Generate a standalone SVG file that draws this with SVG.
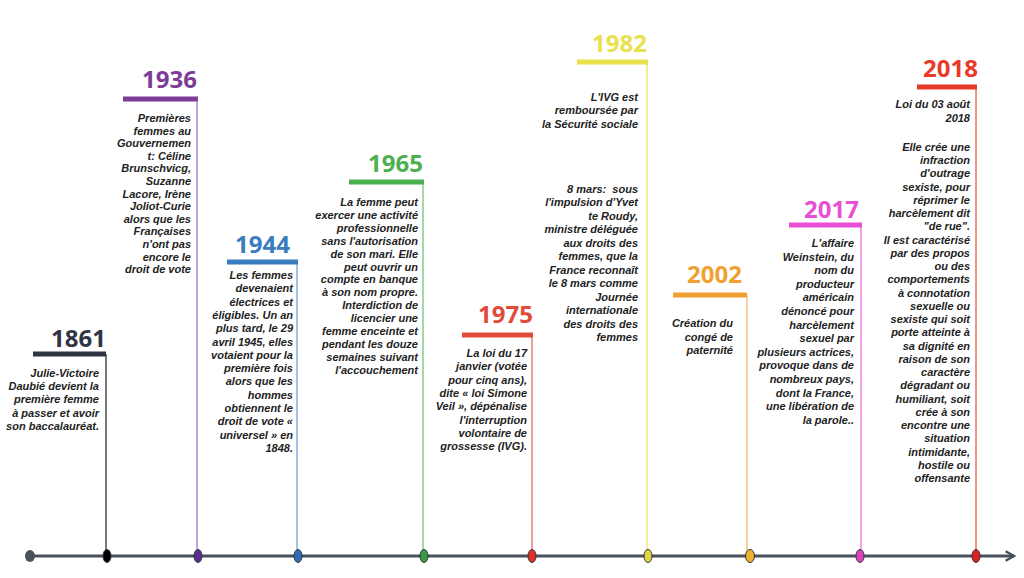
<svg xmlns="http://www.w3.org/2000/svg" width="1024" height="578" viewBox="0 0 1024 578">
<defs>
<style>
.yr{font-family:"Open Sans","Liberation Sans",sans-serif;font-weight:700;font-size:24px;text-anchor:end}
.tx{font-family:"Liberation Sans",Arial,sans-serif;font-weight:700;font-style:italic;font-size:11px;fill:#222;text-anchor:end}
.bar{stroke-width:5}
.vl{stroke-width:1.2}
.dot{stroke:#333;stroke-width:1}
</style>
<marker id="arr" viewBox="0 0 10 10" refX="8" refY="5" markerWidth="4" markerHeight="4" orient="auto" markerUnits="strokeWidth">
<path d="M1,1 L8,5 L1,9" fill="none" stroke="#4a505c" stroke-width="2"/>
</marker>
</defs>
<rect width="1024" height="578" fill="#fff"/>
<g id="connectors">
<line x1="30" y1="556" x2="1014" y2="556" stroke="#4a505c" stroke-width="3" marker-end="url(#arr)"/>
<line class="vl" x1="106" y1="354" x2="106" y2="556" stroke="#222"/>
<line class="vl" x1="197" y1="99" x2="197" y2="556" stroke="#9b6cc0"/>
<line class="vl" x1="297" y1="262" x2="297" y2="556" stroke="#6a9ad0"/>
<line class="vl" x1="423" y1="182" x2="423" y2="556" stroke="#66c070"/>
<line class="vl" x1="532" y1="335" x2="532" y2="556" stroke="#e06050"/>
<line class="vl" x1="647" y1="62" x2="647" y2="556" stroke="#e8e050"/>
<line class="vl" x1="747" y1="295" x2="747" y2="556" stroke="#f0b060"/>
<line class="vl" x1="861" y1="225" x2="861" y2="556" stroke="#f060e0"/>
<line class="vl" x1="976" y1="87" x2="976" y2="556" stroke="#e05040"/>
</g>
<g id="start"><ellipse cx="30" cy="556" rx="5" ry="6" fill="#4a505c"/></g>
<g id="n1861">
<text class="yr" x="106" y="347" fill="#2f3542">1861</text>
<line class="bar" x1="33" y1="354" x2="106" y2="354" stroke="#2f3542"/>
<text class="tx" y="377"><tspan x="99">Julie-Victoire</tspan><tspan x="99" dy="13.2">Daubié devient la</tspan><tspan x="99" dy="13.2">première femme</tspan><tspan x="99" dy="13.2">à passer et avoir</tspan><tspan x="99" dy="13.2">son baccalauréat.</tspan></text>
<ellipse class="dot" cx="107" cy="556" rx="4" ry="6.5" fill="#000"/>
</g>
<g id="n1936">
<text class="yr" x="197" y="88" fill="#7d3c98">1936</text>
<line class="bar" x1="123" y1="99" x2="198" y2="99" stroke="#7d3c98"/>
<text class="tx" y="122"><tspan x="191">Premières</tspan><tspan x="191" dy="12.6">femmes au</tspan><tspan x="191" dy="12.6">Gouvernemen</tspan><tspan x="191" dy="12.6">t: Céline</tspan><tspan x="191" dy="12.6">Brunschvicg,</tspan><tspan x="191" dy="12.6">Suzanne</tspan><tspan x="191" dy="12.6">Lacore, Irène</tspan><tspan x="191" dy="12.6">Joliot-Curie</tspan><tspan x="191" dy="12.6">alors que les</tspan><tspan x="191" dy="12.6">Françaises</tspan><tspan x="191" dy="12.6">n'ont pas</tspan><tspan x="191" dy="12.6">encore le</tspan><tspan x="191" dy="12.6">droit de vote</tspan></text>
<ellipse class="dot" cx="198" cy="556" rx="4" ry="6.5" fill="#5c2d91"/>
</g>
<g id="n1944">
<text class="yr" x="290" y="253" fill="#3a7dbf">1944</text>
<line class="bar" x1="227" y1="262" x2="298" y2="262" stroke="#3a7dbf"/>
<text class="tx" y="279"><tspan x="293">Les femmes</tspan><tspan x="293" dy="13.3">devenaient</tspan><tspan x="293" dy="13.3">électrices et</tspan><tspan x="293" dy="13.3">éligibles. Un an</tspan><tspan x="293" dy="13.3">plus tard, le 29</tspan><tspan x="293" dy="13.3">avril 1945, elles</tspan><tspan x="293" dy="13.3">votaient pour la</tspan><tspan x="293" dy="13.3">première fois</tspan><tspan x="293" dy="13.3">alors que les</tspan><tspan x="293" dy="13.3">hommes</tspan><tspan x="293" dy="13.3">obtiennent le</tspan><tspan x="293" dy="13.3">droit de vote «</tspan><tspan x="293" dy="13.3">universel » en</tspan><tspan x="293" dy="13.3">1848.</tspan></text>
<ellipse class="dot" cx="298" cy="556" rx="4" ry="6.5" fill="#2f6db5"/>
</g>
<g id="n1965">
<text class="yr" x="423" y="172" fill="#4caf50">1965</text>
<line class="bar" x1="349" y1="182" x2="424" y2="182" stroke="#4caf50"/>
<text class="tx" y="206"><tspan x="418">La femme peut</tspan><tspan x="418" dy="12.9">exercer une activité</tspan><tspan x="418" dy="12.9">professionnelle</tspan><tspan x="418" dy="12.9">sans l'autorisation</tspan><tspan x="418" dy="12.9">de son mari. Elle</tspan><tspan x="418" dy="12.9">peut ouvrir un</tspan><tspan x="418" dy="12.9">compte en banque</tspan><tspan x="418" dy="12.9">à son nom propre.</tspan><tspan x="418" dy="12.9">Interdiction de</tspan><tspan x="418" dy="12.9">licencier une</tspan><tspan x="418" dy="12.9">femme enceinte et</tspan><tspan x="418" dy="12.9">pendant les douze</tspan><tspan x="418" dy="12.9">semaines suivant</tspan><tspan x="418" dy="12.9">l'accouchement</tspan></text>
<ellipse class="dot" cx="424" cy="556" rx="4" ry="6.5" fill="#3a9a4a"/>
</g>
<g id="n1975">
<text class="yr" x="533" y="323" fill="#e04b3a">1975</text>
<line class="bar" x1="462" y1="335" x2="533" y2="335" stroke="#e04b3a"/>
<text class="tx" y="357"><tspan x="527">La loi du 17</tspan><tspan x="527" dy="13.3">janvier (votée</tspan><tspan x="527" dy="13.3">pour cinq ans),</tspan><tspan x="527" dy="13.3">dite « loi Simone</tspan><tspan x="527" dy="13.3">Veil », dépénalise</tspan><tspan x="527" dy="13.3">l'interruption</tspan><tspan x="527" dy="13.3">volontaire de</tspan><tspan x="527" dy="13.3">grossesse (IVG).</tspan></text>
<ellipse class="dot" cx="532" cy="556" rx="4" ry="6.5" fill="#e0302a"/>
</g>
<g id="n1982">
<text class="yr" x="647" y="52" fill="#e8e04c">1982</text>
<line class="bar" x1="577" y1="62" x2="648" y2="62" stroke="#e8e04c"/>
<text class="tx" y="101"><tspan x="638">L'IVG est</tspan><tspan x="638" dy="13.3">remboursée par</tspan><tspan x="638" dy="13.3">la Sécurité sociale</tspan></text>
<text class="tx" y="193" xml:space="preserve"><tspan x="638">8 mars:  sous</tspan><tspan x="638" dy="13.45">l'impulsion d'Yvet</tspan><tspan x="638" dy="13.45">te Roudy,</tspan><tspan x="638" dy="13.45">ministre déléguée</tspan><tspan x="638" dy="13.45">aux droits des</tspan><tspan x="638" dy="13.45">femmes, que la</tspan><tspan x="638" dy="13.45">France reconnaît</tspan><tspan x="638" dy="13.45">le 8 mars comme</tspan><tspan x="638" dy="13.45">Journée</tspan><tspan x="638" dy="13.45">internationale</tspan><tspan x="638" dy="13.45">des droits des</tspan><tspan x="638" dy="13.45">femmes</tspan></text>
<ellipse class="dot" cx="648" cy="556" rx="4" ry="6.5" fill="#e0d840"/>
</g>
<g id="n2002">
<text class="yr" x="742" y="283" fill="#f0a030">2002</text>
<line class="bar" x1="673" y1="295" x2="747" y2="295" stroke="#f0a030"/>
<text class="tx" y="327"><tspan x="733">Création du</tspan><tspan x="733" dy="13.5">congé de</tspan><tspan x="733" dy="13.5">paternité</tspan></text>
<ellipse class="dot" cx="750" cy="556" rx="4.5" ry="6.5" fill="#f0b030"/>
</g>
<g id="n2017">
<text class="yr" x="859" y="218" fill="#e84fd4">2017</text>
<line class="bar" x1="789" y1="225" x2="862" y2="225" stroke="#e84fd4"/>
<text class="tx" y="247"><tspan x="854">L'affaire</tspan><tspan x="854" dy="13.6">Weinstein, du</tspan><tspan x="854" dy="13.6">nom du</tspan><tspan x="854" dy="13.6">producteur</tspan><tspan x="854" dy="13.6">américain</tspan><tspan x="854" dy="13.6">dénoncé pour</tspan><tspan x="854" dy="13.6">harcèlement</tspan><tspan x="854" dy="13.6">sexuel par</tspan><tspan x="854" dy="13.6">plusieurs actrices,</tspan><tspan x="854" dy="13.6">provoque dans de</tspan><tspan x="854" dy="13.6">nombreux pays,</tspan><tspan x="854" dy="13.6">dont la France,</tspan><tspan x="854" dy="13.6">une libération de</tspan><tspan x="854" dy="13.6">la parole..</tspan></text>
<ellipse class="dot" cx="860" cy="556" rx="4" ry="6.5" fill="#e040c0"/>
</g>
<g id="n2018">
<text class="yr" x="978" y="77" fill="#e8392b">2018</text>
<line class="bar" x1="917" y1="87" x2="977" y2="87" stroke="#e8392b"/>
<text class="tx" y="108"><tspan x="970">Loi du 03 août</tspan><tspan x="970" dy="14">2018</tspan></text>
<text class="tx" y="151"><tspan x="970">Elle crée une</tspan><tspan x="970" dy="13.24">infraction</tspan><tspan x="970" dy="13.24">d'outrage</tspan><tspan x="970" dy="13.24">sexiste, pour</tspan><tspan x="970" dy="13.24">réprimer le</tspan><tspan x="970" dy="13.24">harcèlement dit</tspan><tspan x="970" dy="13.24">"de rue".</tspan><tspan x="970" dy="13.24">Il est caractérisé</tspan><tspan x="970" dy="13.24">par des propos</tspan><tspan x="970" dy="13.24">ou des</tspan><tspan x="970" dy="13.24">comportements</tspan><tspan x="970" dy="13.24">à connotation</tspan><tspan x="970" dy="13.24">sexuelle ou</tspan><tspan x="970" dy="13.24">sexiste qui soit</tspan><tspan x="970" dy="13.24">porte atteinte à</tspan><tspan x="970" dy="13.24">sa dignité en</tspan><tspan x="970" dy="13.24">raison de son</tspan><tspan x="970" dy="13.24">caractère</tspan><tspan x="970" dy="13.24">dégradant ou</tspan><tspan x="970" dy="13.24">humiliant, soit</tspan><tspan x="970" dy="13.24">crée à son</tspan><tspan x="970" dy="13.24">encontre une</tspan><tspan x="970" dy="13.24">situation</tspan><tspan x="970" dy="13.24">intimidante,</tspan><tspan x="970" dy="13.24">hostile ou</tspan><tspan x="970" dy="13.24">offensante</tspan></text>
<ellipse class="dot" cx="976" cy="556" rx="4" ry="6.5" fill="#e02020"/>
</g>
</svg>
